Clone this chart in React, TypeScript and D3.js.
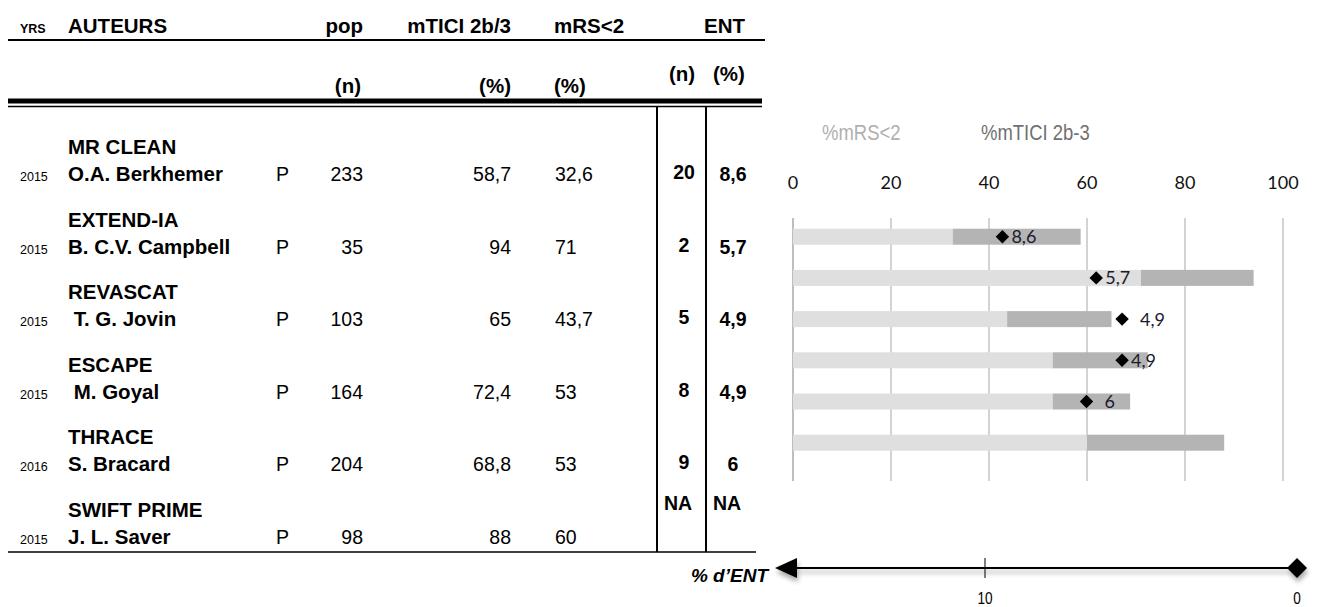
import React from "react";
import * as d3 from "d3";

// ---------- data ----------
const years = ["2015", "2015", "2015", "2015", "2016", "2015"];
const trials = ["MR CLEAN", "EXTEND-IA", "REVASCAT", "ESCAPE", "THRACE", "SWIFT PRIME"];
const authors = ["O.A. Berkhemer", "B. C.V. Campbell", "\u00a0T. G. Jovin", "\u00a0M. Goyal", "S. Bracard", "J. L. Saver"];
const design = ["P", "P", "P", "P", "P", "P"];
const pop = [233, 35, 103, 164, 204, 98];
const mtici = [58.7, 94, 65, 72.4, 68.8, 88];
const mrs = [32.6, 71, 43.7, 53, 53, 60];
const entN: (number | null)[] = [20, 2, 5, 8, 9, null];
const entPct: (number | null)[] = [8.6, 5.7, 4.9, 4.9, 6, null];
const entLabelPrefix = ["", "", "\u2002", "", "\u2002", ""];
const pctTicks = [0, 20, 40, 60, 80, 100];
const entAxisTicks = [10, 0];

const fmt = (v: number) => String(v).replace(".", ",");

const TABLE_FONT = "'Liberation Sans', Arial, sans-serif";
const CAL_FONT = "Lato, 'Open Sans', sans-serif";

export default function App() {
  const W = 1342, H = 607;

  // chart scales
  const x = d3.scaleLinear().domain([0, 100]).range([793, 1283]);
  const yBar = d3.scalePoint<string>().domain(trials).range([236.7, 442.7]);
  const barH = 16;
  // ENT % position on the chart (inverted)
  const entX = d3.scaleLinear().domain([0, 10]).range([x(99.5), x(33.5)]);
  // bottom ENT axis
  const entAxis = d3.scaleLinear().domain([10, 0]).range([985, 1297]);
  const axisY = 568;

  // table row scale (author line baseline)
  const yRow = d3.scalePoint<string>().domain(trials).range([181, 544]);

  const diamond = d3.symbol(d3.symbolSquare, 90)() as string;
  const bigDiamond = d3.symbol(d3.symbolSquare, 200)() as string;

  const hdrY = 33;
  const subY = 93;

  return (
    <svg width={W} height={H} style={{ position: "absolute", left: 0, top: 0, display: "block", background: "#fff" }}>
      <defs>
        <filter id="shadow" x="-10%" y="-50%" width="120%" height="250%">
          <feDropShadow dx="1" dy="4" stdDeviation="2.5" floodColor="#000" floodOpacity="0.35" />
        </filter>
      </defs>

      {/* ---------- TABLE HEADER ---------- */}
      <g fontFamily={TABLE_FONT} fontWeight="bold" fill="#000">
        <text x={20} y={hdrY} fontSize={12.5}>YRS</text>
        <text x={68} y={hdrY} fontSize={20.5}>AUTEURS</text>
        <text x={363} y={hdrY} fontSize={20.5} textAnchor="end">pop</text>
        <text x={511} y={hdrY} fontSize={20.5} textAnchor="end">mTICI 2b/3</text>
        <text x={554} y={hdrY} fontSize={20.5}>mRS&lt;2</text>
        <text x={704} y={hdrY} fontSize={20.5}>ENT</text>
        <text x={361} y={subY} fontSize={20.5} textAnchor="end">(n)</text>
        <text x={511} y={subY} fontSize={20.5} textAnchor="end">(%)</text>
        <text x={554} y={subY} fontSize={20.5}>(%)</text>
        <text x={682} y={subY - 12} fontSize={20.5} textAnchor="middle">(n)</text>
        <text x={729} y={subY - 12} fontSize={20.5} textAnchor="middle">(%)</text>
      </g>
      <line x1={8} x2={765} y1={40} y2={40} stroke="#000" strokeWidth={2} />
      <rect x={8} y={98.5} width={754} height={5} fill="#000" />
      <line x1={8} x2={762} y1={106.5} y2={106.5} stroke="#000" strokeWidth={1.5} />
      <line x1={657} x2={657} y1={107} y2={552} stroke="#000" strokeWidth={2} />
      <line x1={706} x2={706} y1={107} y2={552} stroke="#000" strokeWidth={2} />
      <line x1={8} x2={756} y1={552} y2={552} stroke="#000" strokeWidth={1.5} />

      {/* ---------- TABLE ROWS ---------- */}
      <g fontFamily={TABLE_FONT} fill="#000">
        {trials.map((t, i) => {
          const yb = yRow(t) as number;
          return (
            <g key={t}>
              <text x={68} y={yb - 27} fontSize={20.5} fontWeight="bold">{t}</text>
              <text x={20} y={yb} fontSize={12.5}>{years[i]}</text>
              <text x={68} y={yb} fontSize={20.5} fontWeight="bold">{authors[i]}</text>
              <text x={276} y={yb} fontSize={19.5}>{design[i]}</text>
              <text x={363} y={yb} fontSize={19.5} textAnchor="end">{pop[i]}</text>
              <text x={511} y={yb} fontSize={19.5} textAnchor="end">{fmt(mtici[i])}</text>
              <text x={555} y={yb} fontSize={19.5}>{fmt(mrs[i])}</text>
              {entN[i] !== null ? (
                <>
                  <text x={684} y={yb - 2} fontSize={19.5} fontWeight="bold" textAnchor="middle">{entN[i]}</text>
                  <text x={733} y={yb} fontSize={19.5} fontWeight="bold" textAnchor="middle">{fmt(entPct[i] as number)}</text>
                </>
              ) : (
                <>
                  <text x={664} y={yb - 34} fontSize={19.5} fontWeight="bold">NA</text>
                  <text x={713} y={yb - 34} fontSize={19.5} fontWeight="bold">NA</text>
                </>
              )}
            </g>
          );
        })}
      </g>

      {/* ---------- CHART ---------- */}
      {/* legend */}
      <g fontFamily={TABLE_FONT} fontSize={22}>
        <text transform={`translate(822,140) scale(0.84,1)`} fill="#b0b0b0">%mRS&lt;2</text>
        <text transform={`translate(981,140) scale(0.84,1)`} fill="#707070">%mTICI 2b-3</text>
      </g>
      {/* tick labels */}
      <g fontFamily={CAL_FONT} fontSize={18} fill="#111" textAnchor="middle">
        {pctTicks.map((t) => (
          <text key={t} x={x(t)} y={189}>{t}</text>
        ))}
      </g>
      {/* gridlines */}
      {pctTicks.map((t) => (
        <line key={t} x1={x(t)} x2={x(t)} y1={218} y2={481} stroke={t === 0 ? "#a8a8a8" : "#c4c4c4"} strokeWidth={1.5} />
      ))}
      {/* bars */}
      {trials.map((t, i) => {
        const yc = yBar(t) as number;
        return (
          <g key={t}>
            <rect x={x(0)} y={yc - barH / 2} width={x(mrs[i]) - x(0)} height={barH} fill="#dfdfdf" />
            <rect x={x(mrs[i])} y={yc - barH / 2} width={x(mtici[i]) - x(mrs[i])} height={barH} fill="#b4b4b4" />
          </g>
        );
      })}
      {/* ENT diamonds */}
      {trials.map((t, i) => {
        const v = entPct[i];
        if (v === null) return null;
        const yc = yBar(t) as number;
        const cx = entX(v);
        return (
          <g key={t}>
            <path d={diamond} transform={`translate(${cx},${yc}) rotate(45)`} fill="#000" />
            <text x={cx + 9} y={yc + 6.5} fontFamily={CAL_FONT} fontSize={18} fill="#1a1a2a">
              {entLabelPrefix[i] + fmt(v)}
            </text>
          </g>
        );
      })}

      {/* ---------- bottom ENT axis ---------- */}
      <g filter="url(#shadow)">
        <line x1={796} x2={entAxis(0)} y1={axisY} y2={axisY} stroke="#000" strokeWidth={2} />
        <path d={`M775,${axisY} L797,${axisY - 10} L797,${axisY + 10} Z`} fill="#000" />
        <path d={bigDiamond} transform={`translate(${entAxis(0)},${axisY}) rotate(45)`} fill="#000" />
      </g>
      {entAxisTicks.filter((t) => t !== 0).map((t) => (
        <line key={t} x1={entAxis(t)} x2={entAxis(t)} y1={axisY - 10} y2={axisY + 10} stroke="#000" strokeWidth={1} />
      ))}
      <g fontFamily={TABLE_FONT} fontSize={16} textAnchor="middle" fill="#000">
        {entAxisTicks.map((t) => (
          <text key={t} transform={`translate(${entAxis(t)},604) scale(0.85,1)`}>{t}</text>
        ))}
      </g>
      <text x={768} y={582} textAnchor="end" fontFamily={TABLE_FONT} fontSize={19} fontWeight="bold" fontStyle="italic">
        % d’ENT
      </text>
    </svg>
  );
}
